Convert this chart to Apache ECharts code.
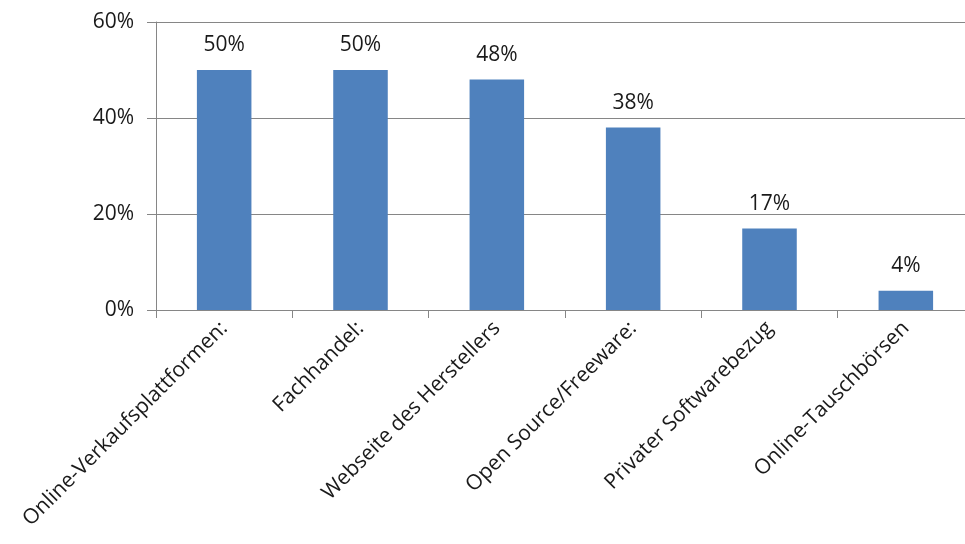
<!DOCTYPE html>
<html>
<head>
    <meta charset="UTF-8">
    <title></title>
    <script src="https://cdn.jsdelivr.net/npm/echarts@6/dist/echarts.min.js"></script>
    <style>
    html, body { margin: 0; padding: 0; background: #fff; }
    #chart { width: 965px; height: 544px; }
    </style>
</head>
<body>
    <div id="chart"></div>
</body>
</html>
<script>
var categories = ['Online-Verkaufsplattformen:', 'Fachhandel:', 'Webseite des Herstellers', 'Open Source/Freeware:', 'Privater Softwarebezug', 'Online-Tauschbörsen'];
var values = [50, 50, 48, 38, 17, 4];
var yTicks = [0, 20, 40, 60];

var font = '"Open Sans", sans-serif';
var myChart = echarts.init(document.getElementById('chart'));

var option = {
    animation: false,
    grid: {
        left: 156,
        width: 818,
        top: 22,
        bottom: 234,
        outerBoundsMode: 'none'
    },
    xAxis: {
        type: 'category',
        data: categories,
        axisLine: { lineStyle: { color: '#868686', width: 1 } },
        axisTick: { show: true, length: 8, lineStyle: { color: '#868686' } },
        axisLabel: {
            rotate: 45,
            margin: 15,
            interval: 0,
            color: '#1a1a1a',
            fontSize: 21,
            fontFamily: font
        }
    },
    yAxis: {
        type: 'value',
        min: yTicks[0],
        max: yTicks[yTicks.length - 1],
        interval: 20,
        axisLine: { show: true, lineStyle: { color: '#868686' } },
        axisTick: { show: true, length: 9, lineStyle: { color: '#868686' } },
        splitLine: { show: true, lineStyle: { color: '#868686', width: 1 } },
        axisLabel: {
            margin: 22,
            color: '#1a1a1a',
            fontSize: 21,
            fontFamily: font,
            formatter: '{value}%'
        }
    },
    series: [{
        type: 'bar',
        data: values,
        barWidth: '40%',
        itemStyle: { color: '#4F81BD' },
        label: {
            show: true,
            position: 'top',
            distance: 14,
            color: '#1a1a1a',
            fontSize: 21,
            fontFamily: font,
            formatter: '{c}%'
        }
    }]
};
myChart.setOption(option);
</script>
